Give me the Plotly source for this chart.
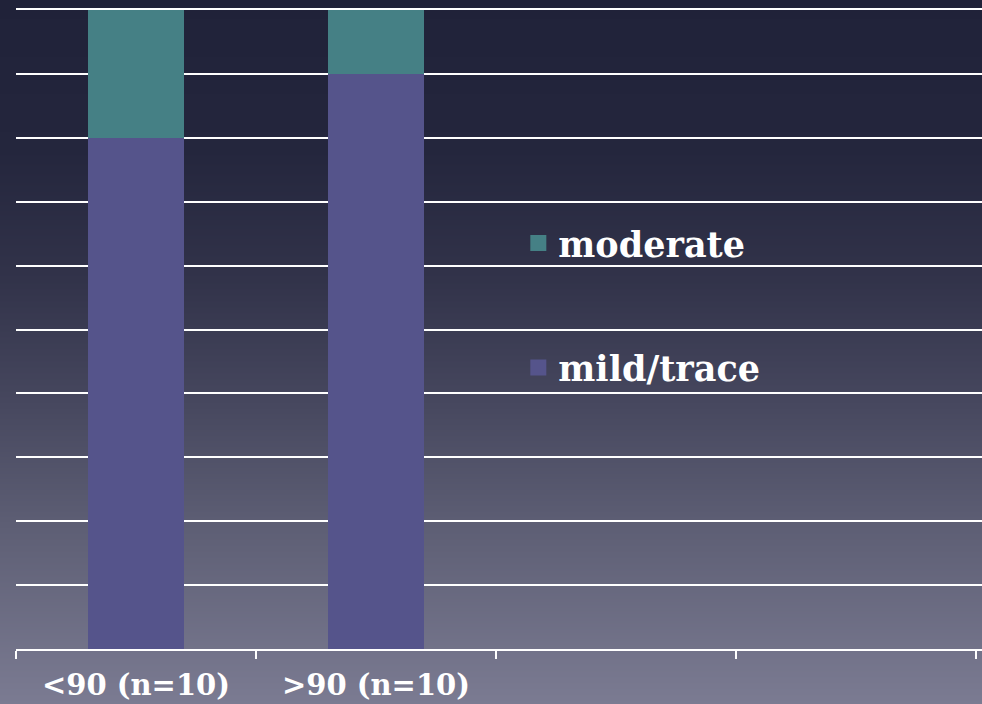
import base64, struct, zlib
import plotly.graph_objects as go

# ---- data ----
categories = ["<90 (n=10)", ">90 (n=10)", " ", "  "]
mild_trace = [80, 90, None, None]
moderate = [20, 10, None, None]
series_names = ["mild/trace", "moderate"]
colors = {"mild/trace": "#55548b", "moderate": "#458085"}

# ---- gradient background image (pure python PNG) ----
W, H = 982, 704
stops = [(0, (32, 34, 57)), (150, (36, 38, 61)), (280, (50, 51, 74)),
         (400, (70, 71, 94)), (530, (94, 95, 117)), (704, (123, 123, 146))]

def color_at(y):
    for (y0, c0), (y1, c1) in zip(stops[:-1], stops[1:]):
        if y0 <= y <= y1:
            t = (y - y0) / (y1 - y0)
            return tuple(int(round(a + (b - a) * t)) for a, b in zip(c0, c1))
    return stops[-1][1]

def make_png(h):
    raw = b"".join(b"\x00" + bytes(color_at(y)) for y in range(h))
    def chunk(tag, data):
        c = struct.pack(">I", len(data)) + tag + data
        return c + struct.pack(">I", zlib.crc32(tag + data) & 0xffffffff)
    ihdr = struct.pack(">IIBBBBB", 1, h, 8, 2, 0, 0, 0)
    return (b"\x89PNG\r\n\x1a\n" + chunk(b"IHDR", ihdr) +
            chunk(b"IDAT", zlib.compress(raw)) + chunk(b"IEND", b""))

bg_uri = "data:image/png;base64," + base64.b64encode(make_png(H)).decode()

ML, MR, MT, MB = 16, 0, 10, 55
pw, ph = W - ML - MR, H - MT - MB

font_family = "DejaVu Serif"

fig = go.Figure()
fig.add_trace(go.Bar(x=categories, y=mild_trace, name="mild/trace",
                     marker=dict(color=colors["mild/trace"], line=dict(width=0)),
                     width=0.4, showlegend=False))
fig.add_trace(go.Bar(x=categories, y=moderate, name="moderate",
                     marker=dict(color=colors["moderate"], line=dict(width=0)),
                     width=0.4, showlegend=False))
# legend entries
for nm in ["moderate", "mild/trace"]:
    fig.add_trace(go.Scatter(x=[None], y=[None], mode="markers", name=nm,
                             legendgroup=nm,
                             marker=dict(symbol="square", size=20, color=colors[nm])))

fig.update_layout(
    width=W, height=H,
    margin=dict(l=ML, r=MR, t=MT, b=MB, pad=0, autoexpand=False),
    barmode="stack",
    paper_bgcolor="#7b7b92",
    plot_bgcolor="rgba(0,0,0,0)",
    images=[dict(source=bg_uri, xref="paper", yref="paper",
                 x=-ML / pw, y=1 + MT / ph, sizex=W / pw, sizey=H / ph,
                 xanchor="left", yanchor="top", sizing="stretch", layer="below")],
    xaxis=dict(type="category", categoryorder="array", categoryarray=categories,
               range=[-0.5, 3.525], tickson="boundaries", ticks="outside",
               ticklen=8, tickwidth=2, tickcolor="white", ticklabelstandoff=9,
               automargin=False,
               showline=True, mirror=True, linecolor="white", linewidth=2, showgrid=False,
               tickfont=dict(family=font_family, size=29, color="white", weight="bold")),
    yaxis=dict(range=[0, 100], dtick=10, showticklabels=False, showgrid=True,
               automargin=False,
               gridcolor="white", gridwidth=2, zeroline=False, showline=False, ticks=""),
    legend=dict(x=0.52, y=0.681, xanchor="left", yanchor="top",
                traceorder="grouped", tracegroupgap=76,
                bgcolor="rgba(0,0,0,0)",
                font=dict(family=font_family, size=35, color="white", weight="bold")),
)

fig.write_html("out.html")
